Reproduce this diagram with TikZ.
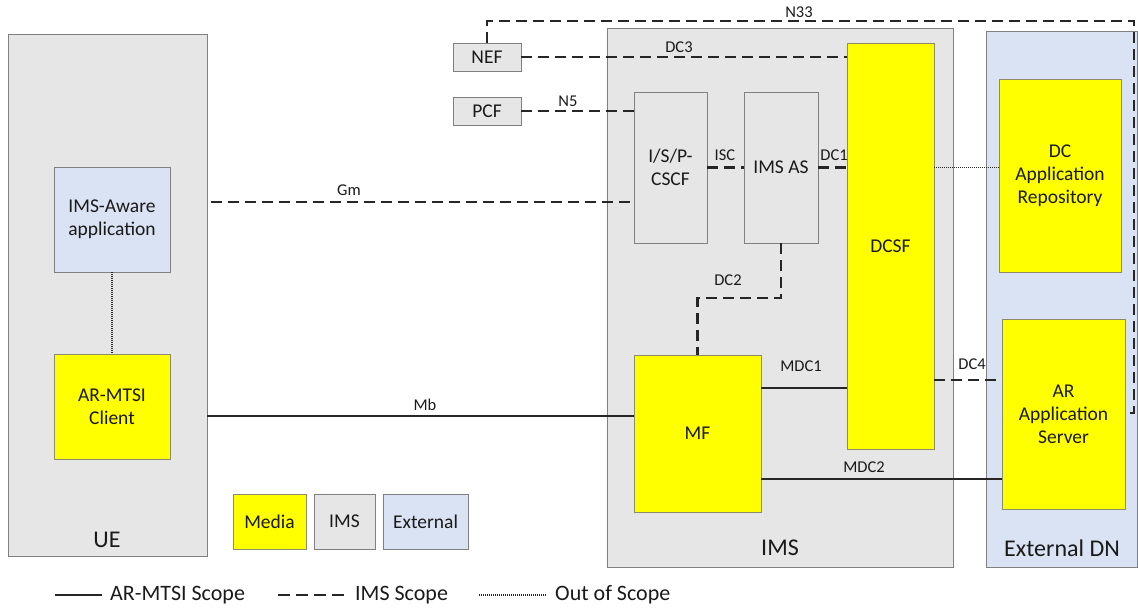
\documentclass[tikz,border=0pt]{standalone}
\usepackage{fontspec}
\setmainfont{Carlito}

\definecolor{imsgray}{HTML}{E6E6E6}
\definecolor{extblue}{HTML}{DAE3F3}
\definecolor{mediayellow}{HTML}{FFFF00}
\definecolor{boxline}{HTML}{808080}
\definecolor{medialine}{HTML}{8C8C6A}
\definecolor{linkcol}{HTML}{262626}
\definecolor{txtcol}{HTML}{1A1A1A}

\newcommand{\bxfont}{\fontsize{19.5}{23}\selectfont}
\newcommand{\lbfont}{\fontsize{16.5}{19}\selectfont}
\newcommand{\lgfont}{\fontsize{22}{26}\selectfont}
\newcommand{\rgfont}{\fontsize{24}{28}\selectfont}

\tikzset{
  box/.style={draw=boxline, line width=0.9pt, inner sep=0pt, outer sep=0pt,
    align=center, font=\bxfont, text=txtcol},
  imsbox/.style={box, fill=imsgray},
  extbox/.style={box, fill=extblue},
  mediabox/.style={box, fill=mediayellow, draw=medialine},
  solidlink/.style={draw=linkcol, line width=1.7pt},
  dashlink/.style={draw=linkcol, line width=2.2pt, dash pattern=on 11pt off 6pt},
  dotlink/.style={draw=linkcol, line width=1.2pt, dash pattern=on 1pt off 1pt},
  lbl/.style={font=\lbfont, inner sep=1pt, text=txtcol},
  region/.style={font=\rgfont, inner sep=1pt, text=txtcol},
  legendtxt/.style={font=\lgfont, inner sep=0pt, anchor=west, text=txtcol},
}

\begin{document}
\begin{tikzpicture}[x=1pt, y=-1pt]
\useasboundingbox (0,0) rectangle (1138,610);

% domains
\node[imsbox, minimum width=199, minimum height=522] (ue) at (107.5,295) {};
\node[imsbox, minimum width=346, minimum height=539] (ims) at (780,297.5) {};
\node[extbox, minimum width=151, minimum height=536] (extdn) at (1061.5,299) {};

\node[region] (uelbl) at (107,540) {UE};
\node[region] (imslbl) at (780,548) {IMS};
\node[region] (extlbl) at (1062,548) {External DN};

% functions
\node[extbox, minimum width=116, minimum height=105] (imsaware) at (112,219.5) {IMS-Aware\\application};
\node[mediabox, minimum width=116, minimum height=105] (armtsi) at (112,406.5) {AR-MTSI\\Client};
\node[imsbox, minimum width=68, minimum height=28] (nef) at (487,57) {NEF};
\node[imsbox, minimum width=68, minimum height=28] (pcf) at (487,111) {PCF};
\node[imsbox, minimum width=73, minimum height=151] (cscf) at (670.5,167.5) {I/S/P-\\CSCF};
\node[imsbox, minimum width=74, minimum height=151] (imsas) at (781,167.5) {IMS AS};
\node[mediabox, minimum width=87, minimum height=406] (dcsf) at (890.5,246) {DCSF};
\node[mediabox, minimum width=122, minimum height=193] (dcrepo) at (1060,175.5) {DC\\Application\\Repository};
\node[mediabox, minimum width=127, minimum height=157] (mf) at (697.5,433.5) {MF};
\node[mediabox, minimum width=123, minimum height=190] (arserver) at (1063.5,414) {AR\\Application\\Server};

% helper coordinates
\coordinate (gmstart) at (211,202);
\coordinate (mbrow) at (0,416);
\coordinate (mdconerow) at (0,388);
\coordinate (mdctworow) at (0,479);
\coordinate (dcfourrow) at (0,380);
\coordinate (n33top) at (1134,21);
\coordinate (n33bot) at (1134,413);

% interfaces
\draw[dashlink] (gmstart) -- (gmstart -| cscf.west);
\draw[dashlink] (pcf.east) -- (pcf.east -| cscf.west);
\draw[dashlink] (nef.east) -- (nef.east -| dcsf.west);
\draw[dashlink] (nef.north) |- (n33top) -- (n33bot) -- (n33bot -| arserver.east);
\draw[dashlink] (cscf.east) -- (imsas.west);
\draw[dashlink] (imsas.east) -- (imsas.east -| dcsf.west);
\draw[dashlink] (imsas.south) -- ++(0,55) -| (mf.north);
\draw[dashlink] (dcsf.east |- dcfourrow) -- (arserver.west |- dcfourrow);
\draw[dotlink] (dcsf.east |- imsas.east) -- (dcrepo.west |- imsas.east);
\draw[dotlink] (imsaware.south) -- (armtsi.north);
\draw[solidlink] (ue.east |- mbrow) -- (mf.west |- mbrow);
\draw[solidlink] (mf.east |- mdconerow) -- (dcsf.west |- mdconerow);
\draw[solidlink] (mf.east |- mdctworow) -- (arserver.west |- mdctworow);

% interface labels
\node[lbl] (lbn33) at (799,12) {N33};
\node[lbl] (lbdc3) at (679,47) {DC3};
\node[lbl] (lbn5) at (568,101) {N5};
\node[lbl] (lbisc) at (725,155) {ISC};
\node[lbl] (lbdc1) at (834,155) {DC1};
\node[lbl] (lbgm) at (349,190) {Gm};
\node[lbl] (lbmb) at (425,405) {Mb};
\node[lbl] (lbdc2) at (728,280) {DC2};
\node[lbl] (lbmdc1) at (801,366) {MDC1};
\node[lbl] (lbdc4) at (972,364) {DC4};
\node[lbl] (lbmdc2) at (864,467) {MDC2};

% legend: colour key
\node[mediabox, minimum width=73, minimum height=55] (keymedia) at (269.5,521.5) {Media};
\node[imsbox, minimum width=61, minimum height=55] (keyims) at (344.5,521.5) {IMS};
\node[extbox, minimum width=85, minimum height=55] (keyext) at (425.5,521.5) {External};

% legend: line styles
\coordinate (lsa) at (55,595);
\coordinate (lsb) at (102,595);
\coordinate (lda) at (278,595);
\coordinate (ldb) at (346,595);
\coordinate (loa) at (479,595);
\coordinate (lob) at (546,595);
\draw[solidlink] (lsa) -- (lsb);
\draw[draw=linkcol, line width=2pt, dash pattern=on 12pt off 6pt] (lda) -- (ldb);
\draw[dotlink] (loa) -- (lob);
\node[legendtxt] (lgsolid) at (110,595) {AR-MTSI Scope};
\node[legendtxt] (lgdash) at (355,595) {IMS Scope};
\node[legendtxt] (lgdot) at (555,595) {Out of Scope};
\end{tikzpicture}
\end{document}
